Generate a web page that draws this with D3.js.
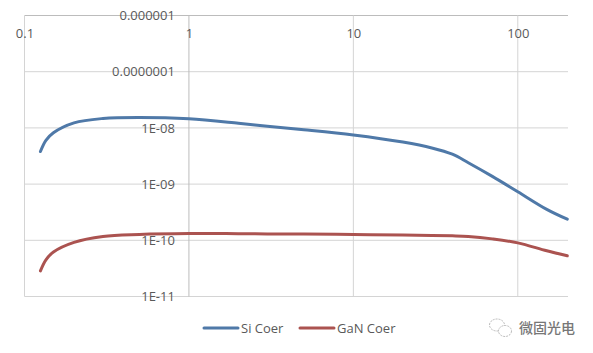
<!DOCTYPE html>
<html>
<head>
<meta charset="utf-8">
<script src="https://cdn.jsdelivr.net/npm/d3@7"></script>
<style>
  html, body { margin: 0; padding: 0; background: #fff; }
  svg { display: block; }
  text { font-family: "Open Sans", sans-serif; }
  .axis .domain { display: none; }
  .axis text { fill: #595959; font-size: 13px; }
</style>
</head>
<body>
<div id="chart"></div>
<script>
const xTicks = [0.1, 1, 10, 100];
const yTicks = [1e-6, 1e-7, 1e-8, 1e-9, 1e-10, 1e-11];
const yTickLabels = ["0.000001", "0.0000001", "1E-08", "1E-09", "1E-10", "1E-11"];
const freq = [0.125, 0.135, 0.15, 0.2, 0.3, 0.5, 1, 2, 3, 5, 10, 20, 30, 40, 50, 70, 100, 150, 200];
const siCoer = [3.8e-9, 6e-9, 8.2e-9, 1.23e-8, 1.47e-8, 1.53e-8, 1.45e-8, 1.21e-8, 1.07e-8, 9.3e-9, 7.5e-9, 5.6e-9, 4.4e-9, 3.4e-9, 2.4e-9, 1.37e-9, 7.3e-10, 3.55e-10, 2.37e-10];
const ganCoer = [2.86e-11, 4.5e-11, 6.2e-11, 9.2e-11, 1.17e-10, 1.27e-10, 1.32e-10, 1.31e-10, 1.3e-10, 1.29e-10, 1.27e-10, 1.24e-10, 1.22e-10, 1.2e-10, 1.17e-10, 1.06e-10, 9e-11, 6.5e-11, 5.3e-11];
const seriesNames = ["Si Coer", "GaN Coer"];
const seriesColors = ["#4f79a8", "#ab5350"];

const width = 593, height = 353;
const plot = { left: 24.5, right: 568, top: 15.5, bottom: 296.5 };

const svg = d3.select("#chart").append("svg").attr("width", width).attr("height", height);

const x = d3.scaleLog().domain([0.1, 202]).range([plot.left, plot.right]);
const y = d3.scaleLog().domain([1e-11, 1e-6]).range([plot.bottom, plot.top]);

// grid
const gridH = "#d4d4d4", gridV = "#d4d4d4", axisCol = "#bcbcbc";
svg.append("g").selectAll("line").data(yTicks).join("line")
  .attr("x1", plot.left).attr("x2", plot.right)
  .attr("y1", d => y(d)).attr("y2", d => y(d))
  .attr("stroke", d => d === 1e-6 ? axisCol : gridH).attr("stroke-width", 1);
svg.append("g").selectAll("line").data(xTicks).join("line")
  .attr("x1", d => x(d)).attr("x2", d => x(d))
  .attr("y1", plot.top).attr("y2", plot.bottom)
  .attr("stroke", d => d === 1 ? axisCol : gridV).attr("stroke-width", 1);

// axes cross at y=1e-6 and x=1, as Excel drew it
svg.append("g").attr("class", "axis").attr("transform", `translate(0,${plot.top})`)
  .call(d3.axisBottom(x).tickValues(xTicks).tickFormat(d => String(d)).tickSize(0).tickPadding(13));
svg.append("g").attr("class", "axis").attr("transform", `translate(${x(1)},0)`)
  .call(d3.axisLeft(y).tickValues(yTicks).tickFormat((d, i) => yTickLabels[i]).tickSize(0).tickPadding(14));

const line = d3.line().x((d, i) => x(freq[i])).y(d => y(d)).curve(d3.curveCatmullRom.alpha(0.5));
[siCoer, ganCoer].forEach((s, i) => {
  svg.append("path").attr("d", line(s)).attr("fill", "none")
    .attr("stroke", seriesColors[i]).attr("stroke-width", 3).attr("stroke-linecap", "round");
});

// legend
const legendX = [204, 300];
seriesNames.forEach((name, i) => {
  const g = svg.append("g").attr("transform", `translate(${legendX[i]},328)`);
  g.append("line").attr("x1", 0).attr("x2", 34).attr("stroke", seriesColors[i]).attr("stroke-width", 3).attr("stroke-linecap", "round");
  g.append("text").attr("x", 37).attr("y", 4.5).attr("fill", "#595959").attr("font-size", 13).text(name);
});

// watermark
const wm = svg.append("g").attr("fill", "#fff").attr("stroke", "#a8a8a8").attr("stroke-width", 0.8);
wm.append("ellipse").attr("cx", 497).attr("cy", 325).attr("rx", 7.5).attr("ry", 6).attr("stroke-dasharray", "2 1");
wm.append("ellipse").attr("cx", 505).attr("cy", 331).attr("rx", 6.5).attr("ry", 5.5).attr("stroke-dasharray", "2 1");
svg.append("text").attr("x", 519).attr("y", 333).attr("fill", "#777")
  .style("font-family", '"Noto Sans CJK SC"').attr("font-size", 14).attr("font-weight", 500).text("微固光电");
</script>
</body>
</html>
